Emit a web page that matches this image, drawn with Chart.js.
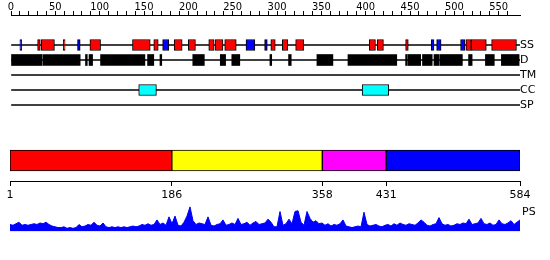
<!DOCTYPE html>
<html>
<head>
<meta charset="utf-8">
<script src="https://cdn.jsdelivr.net/npm/chart.js@4"></script>
<style>
  html, body { margin: 0; padding: 0; background: #fff; }
  #wrap { position: relative; width: 550px; height: 260px; overflow: hidden; }
  canvas { position: absolute; left: 0; }
</style>
</head>
<body>
<div id="wrap">
  <canvas id="trackChart" width="550" height="127" style="top:0px"></canvas>
  <canvas id="domainChart" width="550" height="70" style="top:135px"></canvas>
  <canvas id="psChart" width="550" height="44" style="top:196px"></canvas>
</div>
<script>
// ---- data ----
const trackNames = ['', '', 'SS', 'D', 'TM', 'CC', 'SP', ''];
const rulerMax = 574;

// secondary structure: helices (red) and strands (blue)
const helixRanges = [
  [30, 33], [34, 49], [59, 61], [89, 101], [137, 157], [161, 166], [184, 193],
  [200, 208], [223, 229], [230, 239], [241, 254], [293, 298], [306, 312],
  [321, 330], [404, 411], [413, 420], [445, 448], [513, 519], [519, 536], [542, 570]
];
const strandRanges = [
  [10, 12], [75, 78], [171, 178], [265, 275], [286, 289], [474, 477], [480, 485], [507, 512]
];
// disordered regions
const disorderRanges = [
  [0, 35], [36, 78], [84, 86], [88, 92], [101, 151], [154, 161], [168, 170],
  [205, 218], [236, 242], [249, 258], [292, 294], [313, 316], [345, 363],
  [380, 435], [445, 447], [448, 462], [464, 475], [477, 483], [484, 509],
  [516, 520], [535, 545], [553, 573]
];
// coiled coil
const coilRanges = [[144, 164], [396, 426]];

// domains
const domainRanges = [[1, 186], [186, 358], [358, 431], [431, 584]];
const domainColors = ['#ff0000', '#ffff00', '#ff00ff', '#0000ff'];
const domainTicks = [1, 186, 358, 431, 584];

// PS profile (sampled along the sequence)
const psValues = [
  9, 8, 10, 12, 8, 9, 8, 9, 10, 9, 11, 10, 12, 9, 7, 6, 5, 5, 6, 4,
  5, 4, 5, 9, 6, 7, 9, 8, 12, 8, 7, 11, 6, 5, 6, 5, 6, 5, 6, 5,
  6, 7, 6, 7, 9, 8, 10, 8, 9, 15, 9, 11, 8, 19, 10, 20, 8, 7, 12, 20,
  32, 14, 9, 11, 10, 9, 19, 8, 7, 9, 10, 15, 8, 9, 11, 9, 17, 9, 10, 12,
  8, 11, 13, 9, 10, 11, 16, 12, 6, 6, 26, 8, 10, 16, 10, 26, 27, 12, 8, 26,
  17, 12, 14, 10, 11, 8, 10, 7, 9, 8, 10, 15, 7, 6, 5, 6, 7, 6, 25, 9,
  7, 8, 9, 7, 6, 8, 9, 7, 10, 8, 11, 9, 8, 10, 9, 8, 11, 15, 12, 8,
  7, 9, 10, 18, 10, 8, 9, 7, 8, 10, 9, 11, 10, 16, 9, 10, 11, 17, 10, 9,
  11, 8, 9, 15, 10, 9, 11, 14, 9, 12, 15
];

const rulerFont = { family: "'DejaVu Sans Condensed', 'DejaVu Sans', sans-serif", size: 11 };
const labelFont = { family: "'DejaVu Sans', sans-serif", size: 11 };

function rangeData(ranges, track) {
  return ranges.map(r => ({ x: r, y: track }));
}

function boxSet(ranges, track, color, border) {
  return {
    data: rangeData(ranges, track),
    backgroundColor: color,
    borderColor: '#000',
    borderWidth: border ? 1 : 0,
    borderSkipped: false,
    barThickness: 11,
    grouped: false,
    order: 1
  };
}

// ---- feature tracks ----
new Chart(document.getElementById('trackChart'), {
  type: 'bar',
  data: {
    labels: trackNames,
    datasets: [
      boxSet(helixRanges, 'SS', '#ff0000', true),
      boxSet(strandRanges, 'SS', '#0000ff', true),
      boxSet(disorderRanges, 'D', '#000000', false),
      boxSet(coilRanges, 'CC', '#00ffff', true),
      {
        data: ['SS', 'D', 'TM', 'CC', 'SP'].map(t => ({ x: [0, rulerMax], y: t })),
        backgroundColor: '#000',
        barThickness: 1,
        grouped: false,
        order: 5
      }
    ]
  },
  options: {
    indexAxis: 'y',
    responsive: false,
    animation: false,
    layout: { padding: { left: 11, right: 0, top: 0, bottom: 7 } },
    plugins: { legend: { display: false }, tooltip: { enabled: false } },
    scales: {
      x: {
        type: 'linear',
        position: 'top',
        min: 0,
        max: rulerMax,
        afterBuildTicks: s => { s.ticks = s.ticks.filter(t => t.value % 10 === 0); },
        afterFit: s => { s.height = 15; },
        ticks: {
          stepSize: 10,
          autoSkip: false,
          maxRotation: 0,
          padding: -3,
          color: '#000',
          font: rulerFont,
          callback: v => (v % 50 === 0 ? v : '')
        },
        grid: { drawOnChartArea: false, tickLength: 4, color: '#000' },
        border: { color: '#000' }
      },
      y: {
        type: 'category',
        position: 'right',
        offset: false,
        afterFit: s => { s.width = 30; },
        grid: { display: false, drawTicks: false },
        border: { display: false },
        ticks: { autoSkip: false, padding: 0, color: '#000', font: labelFont }
      }
    }
  }
});

// ---- domain bar ----
new Chart(document.getElementById('domainChart'), {
  type: 'bar',
  data: {
    labels: ['dom'],
    datasets: domainRanges.map((r, i) => ({
      data: [{ x: r, y: 'dom' }],
      backgroundColor: domainColors[i],
      borderColor: '#000',
      borderWidth: 1,
      borderSkipped: false,
      barThickness: 21,
      grouped: false
    }))
  },
  options: {
    indexAxis: 'y',
    responsive: false,
    animation: false,
    layout: { padding: { left: 10, right: 30, top: 5, bottom: 0 } },
    plugins: { legend: { display: false }, tooltip: { enabled: false } },
    scales: {
      x: {
        type: 'linear',
        min: 1,
        max: 584,
        afterBuildTicks: s => { s.ticks = domainTicks.map(v => ({ value: v })); },
        afterFit: s => { s.height = 24; },
        ticks: { autoSkip: false, maxRotation: 0, padding: 2.5, color: '#000', font: labelFont },
        grid: { drawOnChartArea: false, tickLength: 5, color: '#000' },
        border: { color: '#000' }
      },
      y: { display: false }
    }
  }
});

// ---- PS profile ----
new Chart(document.getElementById('psChart'), {
  type: 'line',
  data: {
    labels: psValues.map((_, i) => i),
    datasets: [{
      data: psValues,
      borderColor: '#0000ff',
      backgroundColor: '#0000ff',
      borderWidth: 1,
      pointRadius: 0,
      tension: 0,
      fill: 'origin'
    }]
  },
  options: {
    responsive: false,
    animation: false,
    layout: { padding: { left: 10, right: 0, top: 4, bottom: 5 } },
    plugins: { legend: { display: false }, tooltip: { enabled: false } },
    scales: {
      x: { display: false, offset: false },
      y: {
        min: 0,
        max: 35,
        position: 'right',
        afterBuildTicks: s => { s.ticks = [{ value: 24.5 }]; },
        afterFit: s => { s.width = 30; },
        grid: { display: false, drawTicks: false },
        border: { display: false },
        ticks: { padding: 2, color: '#000', font: labelFont, callback: () => 'PS' }
      }
    }
  }
});
</script>
</body>
</html>
